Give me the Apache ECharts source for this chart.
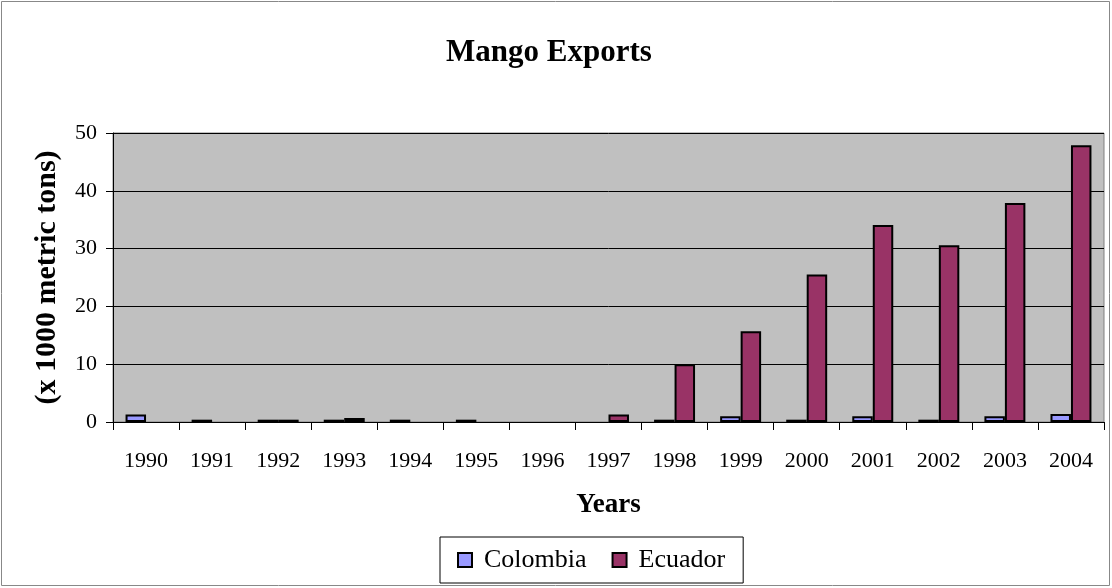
<!DOCTYPE html>
<html>
<head>
<meta charset="utf-8">
<script src="https://cdn.jsdelivr.net/npm/echarts@6/dist/echarts.min.js"></script>
<style>
  html, body { margin: 0; padding: 0; background: #fff; }
  #chart { width: 1112px; height: 588px; }
</style>
</head>
<body>
<div id="chart"></div>
<script>
// data (null = no bar)
const years = ['1990', '1991', '1992', '1993', '1994', '1995', '1996', '1997',
  '1998', '1999', '2000', '2001', '2002', '2003', '2004']
const colombia = [1.3, 0.4, 0.4, 0.4, 0.4, 0.4, null, null, 0.4, 1.0, 0.4, 1.0, 0.4, 1.0, 1.4]
const ecuador = [null, null, 0.4, 0.7, null, null, null, 1.3, 10.0, 15.7, 25.5, 34.1, 30.6, 37.9, 47.9]

const serif = '"Liberation Serif", "Times New Roman", serif'

let myChart = echarts.init(document.getElementById('chart'))
let option = {
  backgroundColor: '#fff',
  animation: false,
  textStyle: { fontFamily: serif },
  graphic: [{
    type: 'rect',
    shape: { x: 1.5, y: 1.5, width: 1108, height: 584 },
    style: { fill: 'none', stroke: '#888', lineWidth: 1 },
    silent: true
  }],
  title: {
    text: 'Mango Exports',
    left: 441,
    top: 32,
    textStyle: { fontFamily: serif, fontSize: 31, fontWeight: 'bold', color: '#000' }
  },
  legend: {
    bottom: 5,
    left: 440,
    data: ['Colombia', 'Ecuador'],
    itemWidth: 14,
    itemHeight: 14,
    itemGap: 25,
    padding: [10, 18, 10, 17],
    borderColor: '#000',
    borderWidth: 1,
    icon: 'rect',
    textStyle: { fontFamily: serif, fontSize: 26, color: '#000', padding: [0, 0, 0, 7] }
  },
  grid: {
    left: 113,
    right: 8,
    top: 133,
    bottom: 166,
    show: true,
    backgroundColor: '#c0c0c0',
    borderColor: '#808080',
    borderWidth: 1
  },
  xAxis: {
    type: 'category',
    data: years,
    name: 'Years',
    nameLocation: 'middle',
    nameGap: 70,
    nameTextStyle: { fontFamily: serif, fontSize: 27, fontWeight: 'bold', color: '#000' },
    axisLine: { lineStyle: { color: '#000', width: 1 } },
    axisTick: { show: true, length: 8, lineStyle: { color: '#000' } },
    axisLabel: { fontFamily: serif, fontSize: 22, color: '#000', margin: 28 }
  },
  yAxis: {
    type: 'value',
    min: 0,
    max: 50,
    interval: 10,
    name: '(x 1000 metric tons)',
    nameLocation: 'middle',
    nameGap: 51,
    nameTextStyle: { fontFamily: serif, fontSize: 30, fontWeight: 'bold', color: '#000' },
    axisLine: { show: true, lineStyle: { color: '#000', width: 1 } },
    axisTick: { show: true, length: 7, lineStyle: { color: '#000' } },
    axisLabel: { fontFamily: serif, fontSize: 22, color: '#000', margin: 16 },
    splitLine: { show: true, lineStyle: { color: '#000', width: 1 } }
  },
  series: [
    {
      name: 'Colombia',
      type: 'bar',
      data: colombia,
      barGap: '0%',
      barCategoryGap: '38%',
      itemStyle: { color: '#9999ff', borderColor: '#000', borderWidth: 2 }
    },
    {
      name: 'Ecuador',
      type: 'bar',
      data: ecuador,
      barGap: '0%',
      barCategoryGap: '38%',
      itemStyle: { color: '#993366', borderColor: '#000', borderWidth: 2 }
    }
  ]
}
myChart.setOption(option)
</script>
</body>
</html>
